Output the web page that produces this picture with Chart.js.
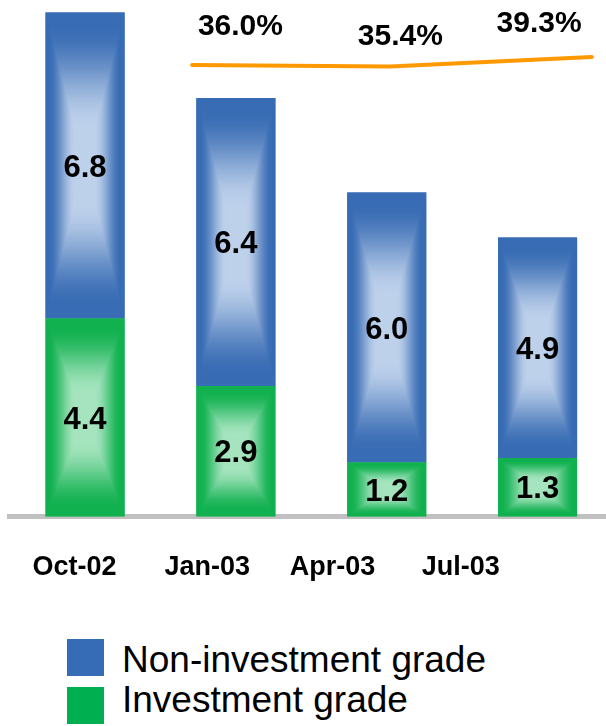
<!DOCTYPE html>
<html><head><meta charset="utf-8">
<script src="https://cdn.jsdelivr.net/npm/chart.js@4.4.0/dist/chart.umd.min.js"></script>
<style>
html,body{margin:0;padding:0;background:#fff;overflow:hidden;}
#wrap{position:relative;width:606px;height:726px;overflow:hidden;}
#c{position:absolute;left:-4.4px;top:0;}
.sw{position:absolute;left:67px;width:37px;height:37px;}
.lt{position:absolute;left:122px;font:37px/36px "Liberation Sans",Arial,sans-serif;color:#000;white-space:nowrap;}
</style></head><body>
<div id="wrap"><canvas id="c" width="617" height="600"></canvas><div id="legend"></div></div>
<script>
// ---- data ----
const categories = ['Oct-02', 'Jan-03', 'Apr-03', 'Jul-03'];
const investmentGrade = [4.4, 2.9, 1.2, 1.3];
const nonInvestmentGrade = [6.8, 6.4, 6.0, 4.9];
const pctValues = [36.0, 35.4, 39.3];
const pctLineX = [0.71, 2.02, 3.36];          // x of line vertices, in category units
const seriesNames = ['Non-investment grade', 'Investment grade'];

// ---- layout / style ----
const FONT = '"Liberation Sans", Arial, sans-serif';
const tickPos = [-0.07, 0.81, 1.64, 2.49];     // where the category labels sit (category units)
const pctLabelPos = [[1.03, 35], [2.09, 45], [3.01, 32]]; // [x in category units, baseline px]
const COLORS = {
  blue: {edge: [56, 108, 180], center: [190, 209, 235], legend: '#366CB5'},
  green: {edge: [18, 177, 80], center: [165, 228, 190], legend: '#00B050'},
  orange: '#FF9900', axis: '#C0C0C0'
};

// legend (HTML)
const legendItems = [[seriesNames[0], COLORS.blue.legend, 639, 642], [seriesNames[1], COLORS.green.legend, 687, 682]];
document.getElementById('legend').innerHTML = legendItems.map(([t, c, sy, ty]) =>
  `<div class="sw" style="top:${sy}px;background:${c}"></div><div class="lt" style="top:${ty}px">${t}</div>`).join('');

function lerp(a, b, t) { return a.map((v, i) => Math.round(v + (b[i] - v) * t)); }

const pillowPlugin = {
  id: 'pillow',
  afterDatasetDraw(chart, args) {
    const ds = chart.data.datasets[args.index];
    if (ds.type !== 'bar') return;
    const pal = ds.pal;
    const ctx = chart.ctx;
    const N = 60;
    ctx.save();
    args.meta.data.forEach(el => {
      const p = el.getProps(['x', 'y', 'base', 'width'], true);
      const left = p.x - p.width / 2, top = Math.min(p.y, p.base), w = p.width, h = Math.abs(p.base - p.y);
      for (let k = 0; k < N; k++) {
        const f = k / N;
        const u = Math.min(1, Math.max(0, (f - 0.07) / 0.68));
        const t = u * u * (3 - 2 * u);
        const c = lerp(pal.edge, pal.center, t);
        ctx.fillStyle = `rgb(${c[0]},${c[1]},${c[2]})`;
        ctx.fillRect(left + f * w / 2, top + f * h / 2, w * (1 - f), h * (1 - f));
      }
    });
    ctx.restore();
  },
  afterDatasetsDraw(chart) {
    const ctx = chart.ctx;
    ctx.save();
    ctx.fillStyle = '#000';
    ctx.textAlign = 'center';
    ctx.textBaseline = 'alphabetic';
    // bar value labels
    ctx.font = 'bold 31px ' + FONT;
    chart.data.datasets.forEach((ds, di) => {
      if (ds.type !== 'bar') return;
      chart.getDatasetMeta(di).data.forEach((el, i) => {
        const p = el.getProps(['x', 'y', 'base'], true);
        const cy = (p.y + p.base) / 2;
        ctx.fillText(ds.data[i].toFixed(1), p.x, cy + 0.358 * 31);
      });
    });
    // percentage labels
    ctx.font = 'bold 30px ' + FONT;
    const xs = chart.scales.xLine;
    pctValues.forEach((v, i) => {
      ctx.fillText(v.toFixed(1) + '%', xs.getPixelForValue(pctLabelPos[i][0]), pctLabelPos[i][1]);
    });
    ctx.restore();
  }
};

new Chart(document.getElementById('c'), {
  data: {
    labels: categories,
    datasets: [
      {type: 'bar', label: seriesNames[1], data: investmentGrade, pal: COLORS.green,
       backgroundColor: 'rgb(18,177,80)', borderWidth: 0, xAxisID: 'x', yAxisID: 'y', grouped: false,
       categoryPercentage: 1, barPercentage: 0.524},
      {type: 'bar', label: seriesNames[0], data: nonInvestmentGrade, pal: COLORS.blue,
       backgroundColor: 'rgb(56,108,180)', borderWidth: 0, xAxisID: 'x', yAxisID: 'y', grouped: false,
       categoryPercentage: 1, barPercentage: 0.524},
      {type: 'line', label: 'share', data: pctValues.map((v, i) => ({x: pctLineX[i], y: v})),
       xAxisID: 'xLine', yAxisID: 'yPct', borderColor: COLORS.orange, borderWidth: 4,
       pointRadius: 0, tension: 0, fill: false, borderCapStyle: 'round', borderJoinStyle: 'round'}
    ]
  },
  options: {
    responsive: false,
    animation: false,
    devicePixelRatio: 1,
    layout: {padding: {left: 0, right: 0, top: 0, bottom: 0}},
    plugins: {legend: {display: false}, tooltip: {enabled: false}},
    scales: {
      x: {type: 'category', display: false, stacked: true, offset: true},
      y: {type: 'linear', display: false, stacked: true, min: 0, max: 11.478},
      yPct: {type: 'linear', display: false, min: -150.5, max: 62.9},
      xLine: {
        type: 'linear', position: 'bottom', min: -0.5, max: 3.5, z: 1,
        grid: {display: false, drawTicks: false},
        border: {display: true, color: COLORS.axis, width: 5},
        ticks: {autoSkip: false, maxRotation: 0, padding: 35, color: '#000',
                font: {family: FONT, size: 27, weight: 'bold'},
                callback: (v, i) => categories[i]},
        afterBuildTicks: s => { s.ticks = tickPos.map(v => ({value: v})); },
        afterFit: s => { s.height = 83.5; }
      }
    }
  },
  plugins: [pillowPlugin]
});
</script>
</body></html>
